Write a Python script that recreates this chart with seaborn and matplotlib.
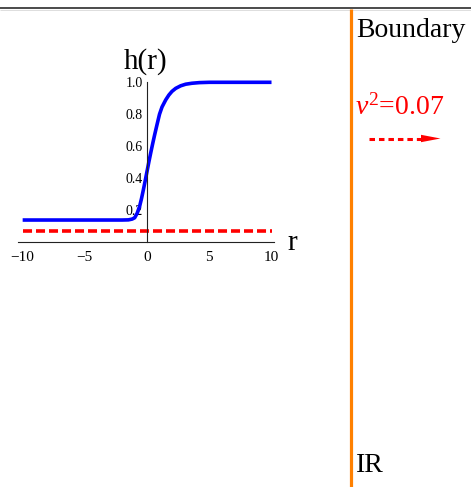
import numpy as np
import pandas as pd
import matplotlib
matplotlib.use("Agg")
import matplotlib.pyplot as plt
from matplotlib.ticker import MultipleLocator, FixedLocator, FormatStrFormatter
import seaborn as sns

# Profile h(r) of the domain wall, sampled along r
r_vals = [-10, -4, -2, -1.5, -1.2, -1.0, -0.8, -0.6, -0.45, -0.3, -0.15, 0.0,
          0.15, 0.3, 0.45, 0.6, 0.8, 1.0, 1.2, 1.5, 1.75, 2.0, 2.3, 2.7, 3.1,
          3.6, 4.2, 5.0, 6.0, 8.0, 10.0]
h_vals = [0.136, 0.136, 0.136, 0.137, 0.142, 0.150, 0.178, 0.222, 0.27, 0.325,
          0.383, 0.443, 0.503, 0.56, 0.615, 0.668, 0.735, 0.80, 0.845, 0.89,
          0.92, 0.943, 0.962, 0.978, 0.988, 0.994, 0.998, 1.0, 1.0, 1.0, 1.0]

# Constant level nu^2 drawn across the whole r range
v2 = 0.07
r_range = [-10, 10]

x_ticks = [-10, -5, 0, 5, 10]
y_ticks = [0.2, 0.4, 0.6, 0.8, 1.0]

sns.set_theme(style="white")
plt.rcParams["font.family"] = ["Liberation Serif", "DejaVu Serif"]
plt.rcParams["mathtext.fontset"] = "custom"
plt.rcParams["mathtext.rm"] = "Liberation Serif"
plt.rcParams["mathtext.it"] = "Liberation Serif:italic"
plt.rcParams["axes.unicode_minus"] = True

W, H = 471, 487
fig = plt.figure(figsize=(W / 100, H / 100), dpi=100)
fig.patch.set_facecolor("white")

# Full-figure overlay in pixel units for the frame and annotations
ov = fig.add_axes([0, 0, 1, 1])
ov.set_xlim(0, W)
ov.set_ylim(H, 0)
ov.axis("off")

ov.plot([0, W], [8, 8], color="#1a1a1a", lw=1.1, solid_capstyle="butt")
ov.plot([0, W], [9.6, 9.6], color="#d8d8d8", lw=0.6, solid_capstyle="butt")
ov.plot([351, 351], [9, H], color="#ff8000", lw=2.3, solid_capstyle="butt")

ov.text(356, 37, "Boundary", fontsize=20, color="black", va="baseline", ha="left")
ov.text(355, 115, r"$\nu^2$" + f"={v2:.2f}", fontsize=20, color="red",
        va="baseline", ha="left")
ov.text(356, 471.5, "IR", fontsize=20, color="black", va="baseline", ha="left")

# dashed arrow pointing toward the boundary
ov.plot([369, 422], [138.5, 138.5], color="red", lw=2.2, linestyle=(0, (1.8, 1.3)),
        solid_capstyle="butt", dash_capstyle="butt")
ov.fill([421, 421, 440.5], [134.8, 142.2, 138.5], color="red", lw=0)

# Inset plot of h(r)
left_px, right_px = 18.3, 274.0
top_px, bottom_px = 82.3, 241.7
ax = fig.add_axes([left_px / W, (H - bottom_px) / H,
                   (right_px - left_px) / W, (bottom_px - top_px) / H])
ax.set_facecolor("none")

df = pd.DataFrame({"r": r_vals, "h": h_vals})
sns.lineplot(data=df, x="r", y="h", ax=ax, color="#0000ff", lw=2.6,
             estimator=None, sort=False)
df_v = pd.DataFrame({"r": r_range, "h": [v2, v2]})
sns.lineplot(data=df_v, x="r", y="h", ax=ax, color="#ff0000", lw=2.6,
             estimator=None, dashes=False)
ax.lines[-1].set_dashes((2.5, 1.1))
for ln in ax.lines:
    ln.set_clip_on(False)
    ln.set_solid_capstyle("butt")

ax.set_xlim(-10.35, 10.2)
ax.set_ylim(0, 1.0)
ax.set_xlabel("")
ax.set_ylabel("")

for s in ["top", "right"]:
    ax.spines[s].set_visible(False)
ax.spines["left"].set_position(("data", 0))
ax.spines["bottom"].set_position(("data", 0))
for s in ["left", "bottom"]:
    ax.spines[s].set_color("#222222")
    ax.spines[s].set_linewidth(0.8)

ax.xaxis.set_major_locator(FixedLocator(x_ticks))
ax.xaxis.set_minor_locator(MultipleLocator(1))
ax.yaxis.set_major_locator(FixedLocator(y_ticks))
ax.yaxis.set_minor_locator(MultipleLocator(0.05))
ax.yaxis.set_major_formatter(FormatStrFormatter("%.1f"))

ax.tick_params(axis="x", which="major", direction="in", length=3.5, width=0.8,
               color="#222222", labelsize=11, pad=6.5, labelcolor="black")
ax.tick_params(axis="x", which="minor", direction="in", length=2.0, width=0.7,
               color="#222222")
ax.tick_params(axis="y", which="major", direction="in", length=3.5, width=0.8,
               color="#222222", labelsize=10, pad=3.0, labelcolor="black")
ax.tick_params(axis="y", which="minor", direction="in", length=2.0, width=0.7,
               color="#222222")
ax.grid(False)

ov.text(146, 68.3, "h(r)", fontsize=21, ha="center", va="baseline", color="black")
ov.text(287.5, 250, "r", fontsize=21, ha="left", va="baseline", color="black")

fig.savefig("out.png", dpi=100, facecolor="white")
